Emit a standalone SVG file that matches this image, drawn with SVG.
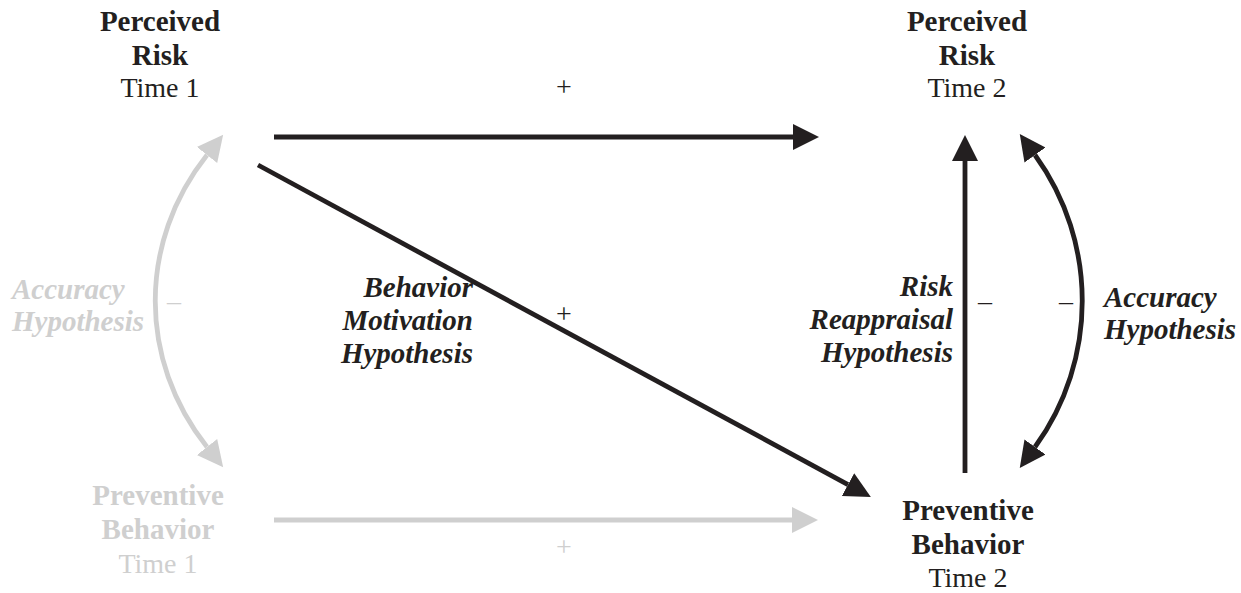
<svg xmlns="http://www.w3.org/2000/svg" width="1241" height="593" viewBox="0 0 1241 593">
  <style>
    .node { font-family: "Liberation Serif", "Times New Roman", serif; text-anchor: middle; }
    .b { font-weight: bold; font-size: 29px; }
    .r { font-size: 28px; }
    .dark { fill: #231f20; }
    .gray { fill: #cfcfcf; }
    .lab { font-family: "Liberation Serif", "Times New Roman", serif; font-weight: bold; font-style: italic; font-size: 29px; }
    .sign { font-family: "Liberation Serif", "Times New Roman", serif; font-size: 28px; text-anchor: middle; }
    .cd { fill: none; stroke: #231f20; stroke-width: 4.8; }
    .cg { fill: none; stroke: #cfcfcf; stroke-width: 4.8; }
  </style>
  <defs>
    <marker id="ahd" markerUnits="userSpaceOnUse" markerWidth="30" markerHeight="30" viewBox="0 -15 30 30" refX="0" refY="0" orient="auto-start-reverse">
      <path d="M0,-13 L26,0 L0,13 Z" fill="#231f20"/>
    </marker>
    <marker id="ahg" markerUnits="userSpaceOnUse" markerWidth="30" markerHeight="30" viewBox="0 -15 30 30" refX="0" refY="0" orient="auto-start-reverse">
      <path d="M0,-13 L26,0 L0,13 Z" fill="#cfcfcf"/>
    </marker>
  </defs>
  <rect width="1241" height="593" fill="#ffffff"/>

  <g id="connectors">
    <path id="e-pr1-pr2" class="cd" d="M274,137 L793,137" marker-end="url(#ahd)"/>
    <path id="e-pr1-pb2" class="cd" d="M258,165 L848,484.6" marker-end="url(#ahd)"/>
    <path id="e-pb2-pr2" class="cd" d="M965,473 L965,161" marker-end="url(#ahd)"/>
    <path id="e-pb1-pb2" class="cg" d="M274,520 L792,520" marker-end="url(#ahg)"/>
    <path id="e-acc2" class="cd" d="M1035,155 C1098,242 1098,360 1035,447" marker-start="url(#ahd)" marker-end="url(#ahd)"/>
    <path id="e-acc1" class="cg" d="M207,155 C138,242 138,360 207,447" marker-start="url(#ahg)" marker-end="url(#ahg)"/>
  </g>

  <g id="node-pr1" class="node dark">
    <text x="160" y="31" class="b">Perceived</text>
    <text x="160" y="65" class="b">Risk</text>
    <text x="160" y="97" class="r">Time 1</text>
  </g>
  <g id="node-pr2" class="node dark">
    <text x="967" y="31" class="b">Perceived</text>
    <text x="967" y="65" class="b">Risk</text>
    <text x="967" y="97" class="r">Time 2</text>
  </g>
  <g id="node-pb1" class="node gray">
    <text x="158" y="505" class="b">Preventive</text>
    <text x="158" y="539" class="b">Behavior</text>
    <text x="158" y="573" class="r">Time 1</text>
  </g>
  <g id="node-pb2" class="node dark">
    <text x="968" y="520" class="b">Preventive</text>
    <text x="968" y="554" class="b">Behavior</text>
    <text x="968" y="587" class="r">Time 2</text>
  </g>

  <g id="labels">
    <text x="564" y="96" class="sign dark">+</text>
    <text x="564" y="323" class="sign dark">+</text>
    <text x="564" y="556" class="sign gray">+</text>

    <text x="174" y="310" class="sign gray">–</text>
    <text x="985" y="310" class="sign dark">–</text>
    <text x="1066" y="310" class="sign dark">–</text>

    <g class="lab gray">
      <text x="12" y="299">Accuracy</text>
      <text x="12" y="331">Hypothesis</text>
    </g>
    <g class="lab dark" text-anchor="end">
      <text x="473" y="297">Behavior</text>
      <text x="473" y="330">Motivation</text>
      <text x="473" y="363">Hypothesis</text>
    </g>
    <g class="lab dark" text-anchor="end">
      <text x="953" y="296">Risk</text>
      <text x="953" y="329">Reappraisal</text>
      <text x="953" y="362">Hypothesis</text>
    </g>
    <g class="lab dark">
      <text x="1104" y="307">Accuracy</text>
      <text x="1104" y="339">Hypothesis</text>
    </g>
  </g>
</svg>
